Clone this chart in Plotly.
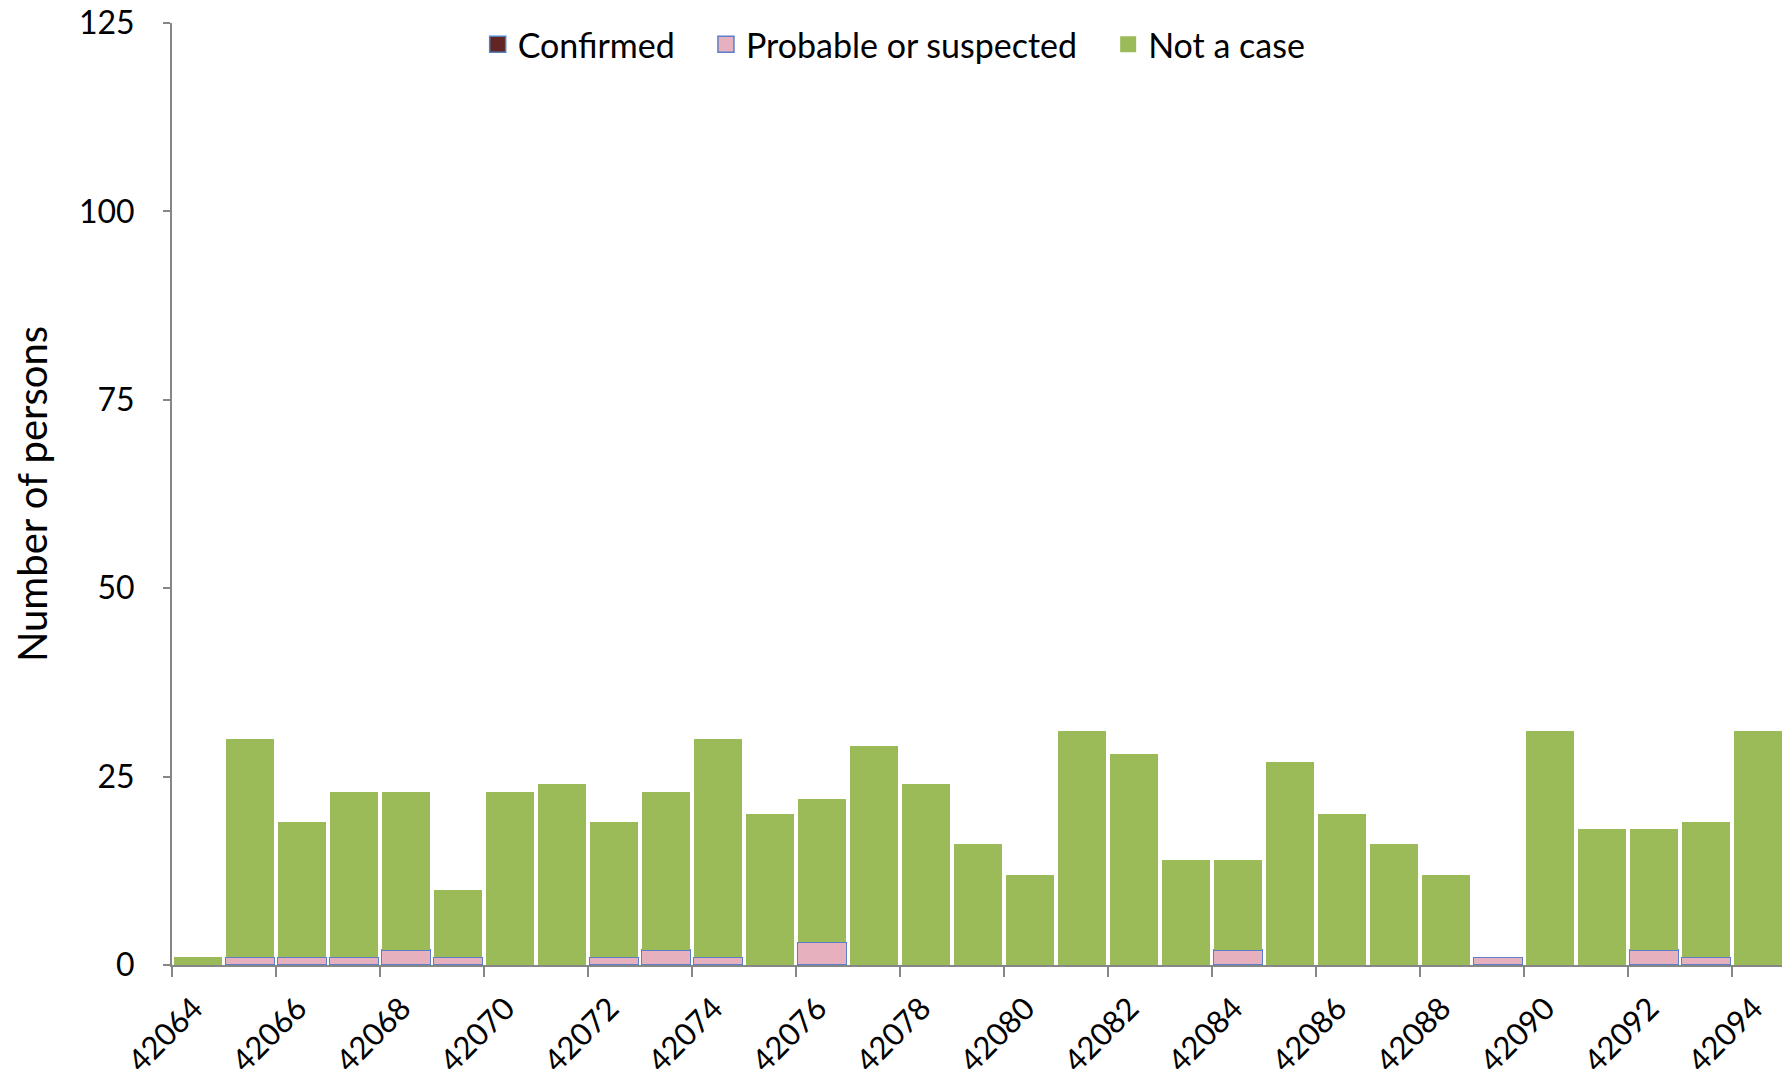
import plotly.graph_objects as go

days = [42064, 42065, 42066, 42067, 42068, 42069, 42070, 42071, 42072, 42073,
        42074, 42075, 42076, 42077, 42078, 42079, 42080, 42081, 42082, 42083,
        42084, 42085, 42086, 42087, 42088, 42089, 42090, 42091, 42092, 42093, 42094]
confirmed = [0] * 31
probable = [0, 1, 1, 1, 2, 1, 0, 0, 1, 2,
            1, 0, 3, 0, 0, 0, 0, 0, 0, 0,
            2, 0, 0, 0, 0, 1, 0, 0, 2, 1, 0]
not_a_case = [1, 29, 18, 22, 21, 9, 23, 24, 18, 21,
              29, 20, 19, 29, 24, 16, 12, 31, 28, 14,
              12, 27, 20, 16, 12, 0, 31, 18, 16, 18, 31]
tick_vals = [42064, 42066, 42068, 42070, 42072, 42074, 42076, 42078,
             42080, 42082, 42084, 42086, 42088, 42090, 42092, 42094]
y_ticks = [0, 25, 50, 75, 100, 125]
series_names = ["Confirmed", "Probable or suspected", "Not a case"]
series_colors = ["#632523", "#E6B0BE", "#9BBB59"]
series_edges = ["#4F81BD", "#5B7FC8", "#9BBB59"]

FONT = "Lato"
AXIS_GREY = "#868686"
LABEL_SHIFT = 0.42  # tick labels sit to the right of tick marks, as in the source
NBSP = "\u00a0"

fig = go.Figure()
common = dict(x=days, offset=0.03, width=0.94, showlegend=False)
for name, vals, col, edge in zip(series_names, [confirmed, probable, not_a_case], series_colors, series_edges):
    lw = 0 if name == "Not a case" else 1.2
    fig.add_trace(go.Bar(name=name, y=vals, marker=dict(color=col, line=dict(color=edge, width=lw)), **common))
# legend keys (square swatches like the source)
for i, (name, col, edge) in enumerate(zip(series_names, series_colors, series_edges)):
    label = name + (NBSP * 3 if i < len(series_names) - 1 else "")
    fig.add_trace(go.Scatter(name=label, x=[None], y=[None], mode="markers",
                             marker=dict(symbol="square", size=21, color=col,
                                         line=dict(color=edge, width=1.5 if name != "Not a case" else 0)),
                             showlegend=True))
# empty trace so that the label-only axis is drawn
fig.add_trace(go.Scatter(x=[None], y=[None], xaxis="x2", yaxis="y", mode="markers",
                         showlegend=False, hoverinfo="skip"))

fig.update_layout(
    barmode="stack",
    width=1782, height=1071,
    margin=dict(l=164, r=6, t=15, b=114, autoexpand=False),
    paper_bgcolor="white", plot_bgcolor="white",
    font=dict(family=FONT, size=32, color="black"),
    showlegend=True,
    legend=dict(orientation="h", traceorder="normal", x=0.448, xanchor="center", y=0.977, yanchor="middle",
                font=dict(size=34), bgcolor="rgba(0,0,0,0)", itemwidth=30, tracegroupgap=0),
    xaxis=dict(range=[42064, 42095], tickmode="array", tickvals=tick_vals,
               showticklabels=False, automargin=False,
               showline=True, linecolor=AXIS_GREY, linewidth=2, ticks="outside",
               ticklen=10, tickcolor=AXIS_GREY, tickwidth=2, showgrid=False, zeroline=False),
    xaxis2=dict(range=[42064, 42095], overlaying="x", anchor="y", side="bottom",
                tickmode="array", tickvals=[v + LABEL_SHIFT for v in tick_vals],
                ticktext=[str(v) for v in tick_vals], tickangle=-45,
                showline=False, ticks="", showgrid=False, zeroline=False, automargin=False,
                ticklabelstandoff=18, ticklabeloverflow="allow",
                tickfont=dict(size=31)),
    yaxis=dict(range=[0, 125], tickmode="array", tickvals=y_ticks, automargin=False,
               showline=True, linecolor=AXIS_GREY, linewidth=2, ticks="outside",
               ticklen=7, tickcolor=AXIS_GREY, tickwidth=2, showgrid=False, zeroline=False,
               ticklabelstandoff=22, ticklabeloverflow="allow", tickfont=dict(size=32),
               title=dict(text="Number of persons", font=dict(size=40), standoff=29)),
)
fig.write_html("out.html")
